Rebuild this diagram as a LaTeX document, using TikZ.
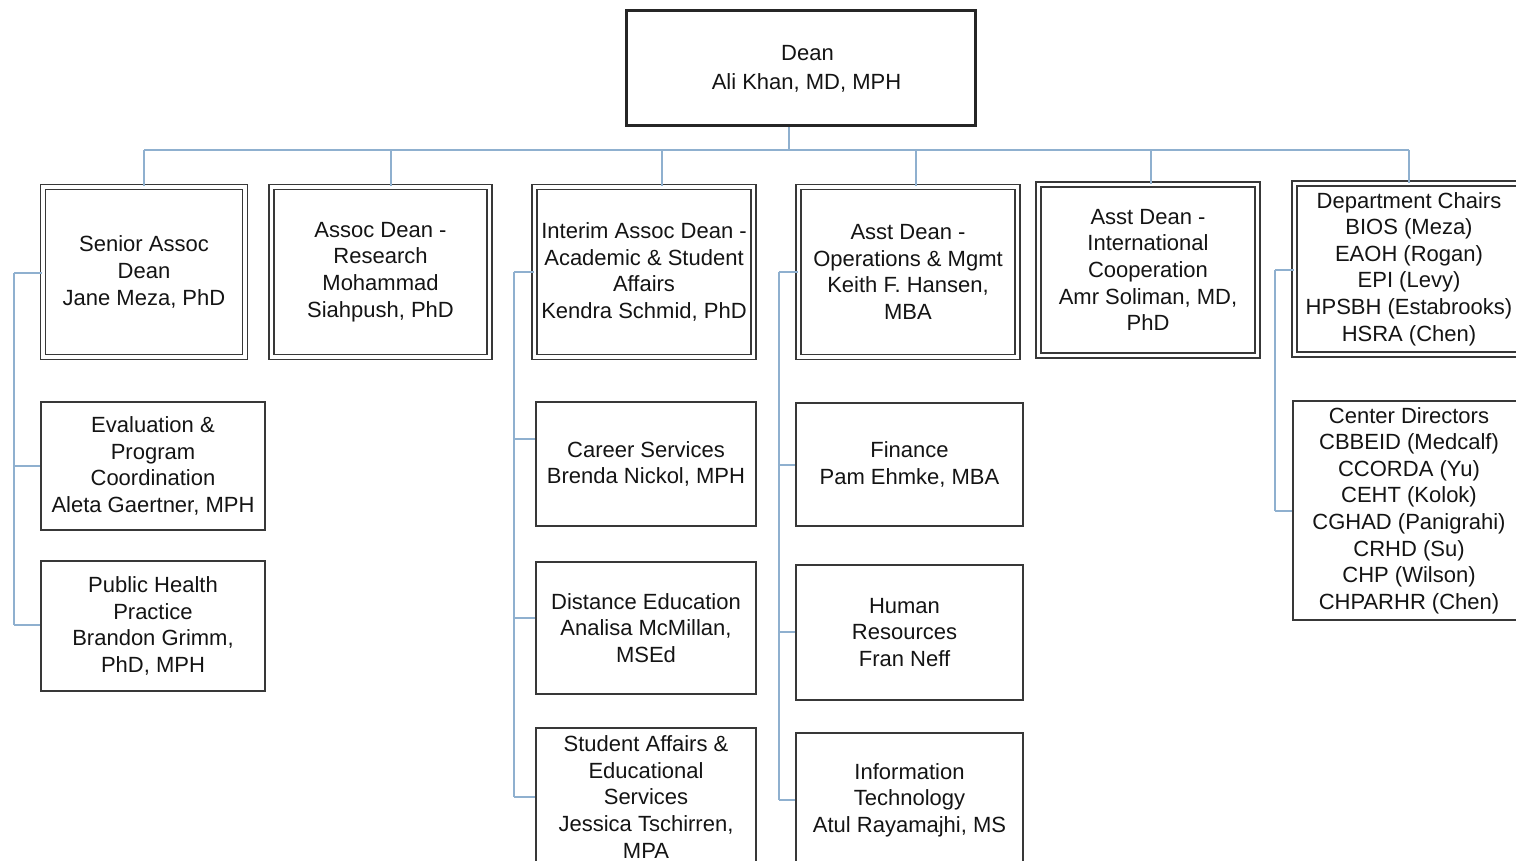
\documentclass[tikz,border=0pt]{standalone}
\usepackage{fontspec}
\setmainfont{Liberation Sans}
\definecolor{conn}{HTML}{8FB0CF}
\definecolor{boxline}{HTML}{383838}
\definecolor{txt}{HTML}{141414}
\begin{document}
\begin{tikzpicture}[x=1pt,y=-1pt,
  txtbase/.style={font=\fontsize{22}{26.6}\selectfont, text=txt, align=center, inner sep=0pt},
  dblbox/.style={txtbase, draw=boxline, line width=1.5pt, double=white, double distance=3.4pt},
  plainbox/.style={txtbase, draw=boxline, line width=1.5pt},
  deanbox/.style={txtbase, draw=black!85, line width=3pt},
  link/.style={draw=conn, line width=1.8pt}]
\useasboundingbox (0,0) rectangle (1516,861);
\clip (0,0) rectangle (1516,861);

% top
\node[deanbox, minimum width=349pt, minimum height=115pt] (dean) at (800.5,68.5) {\hspace*{14pt}Dean\\[2.4pt]\hspace*{12pt}Ali Khan, MD, MPH};

% row 1
\node[dblbox, minimum width=202pt, minimum height=170pt] (n1) at (144,272) {Senior Assoc\\Dean\\Jane Meza, PhD};
\node[dblbox, minimum width=218pt, minimum height=170pt] (n2) at (380.5,272) {Assoc Dean -\\Research\\Mohammad\\Siahpush, PhD};
\node[dblbox, minimum width=219pt, minimum height=170pt] (n3) at (644,272) {Interim Assoc Dean -\\Academic \& Student\\Affairs\\Kendra Schmid, PhD};
\node[dblbox, minimum width=219pt, minimum height=170pt] (n4) at (908,272) {Asst Dean -\\Operations \& Mgmt\\Keith F. Hansen,\\MBA};
\node[dblbox, minimum width=219pt, minimum height=171pt] (n5) at (1148,270) {Asst Dean -\\International\\Cooperation\\Amr Soliman, MD,\\PhD};
\node[dblbox, minimum width=229pt, minimum height=171pt] (n6) at (1409,269) {Department Chairs\\BIOS (Meza)\\EAOH (Rogan)\\EPI (Levy)\\HPSBH (Estabrooks)\\HSRA (Chen)};

% children
\node[plainbox, minimum width=224pt, minimum height=128pt] (e1) at (153,466) {Evaluation \&\\Program\\Coordination\\Aleta Gaertner, MPH};
\node[plainbox, minimum width=224pt, minimum height=130pt] (e2) at (153,626) {Public Health\\Practice\\Brandon Grimm,\\PhD, MPH};

\node[plainbox, minimum width=220pt, minimum height=124pt] (c1) at (646,464) {Career Services\\Brenda Nickol, MPH};
\node[plainbox, minimum width=220pt, minimum height=132pt] (c2) at (646,628) {Distance Education\\Analisa McMillan,\\MSEd};
\node[plainbox, minimum width=220pt, minimum height=138pt] (c3) at (646,797) {Student Affairs \&\\Educational\\Services\\Jessica Tschirren,\\MPA};

\node[plainbox, minimum width=227pt, minimum height=123pt] (f1) at (909.5,464.5) {Finance\\Pam Ehmke, MBA};
\node[plainbox, minimum width=227pt, minimum height=135pt] (f2) at (909.5,632.5) {\hspace*{-10pt}Human\\\hspace*{-10pt}Resources\\\hspace*{-10pt}Fran Neff};
\node[plainbox, minimum width=227pt, minimum height=134pt] (f3) at (909.5,800) {Information\\Technology\\Atul Rayamajhi, MS};

\node[plainbox, minimum width=232pt, minimum height=219pt] (r1) at (1409,510.5) {Center Directors\\CBBEID (Medcalf)\\CCORDA (Yu)\\CEHT (Kolok)\\CGHAD (Panigrahi)\\CRHD (Su)\\CHP (Wilson)\\CHPARHR (Chen)};

% bus
\coordinate (d0) at (789,150);
\coordinate (b1) at (144,150);
\coordinate (b2) at (391,150);
\coordinate (b3) at (662,150);
\coordinate (b4) at (916,150);
\coordinate (b5) at (1151,150);
\coordinate (b6) at (1409,150);
\draw[link] (d0 |- dean.south) -- (d0);
\draw[link] (b1) -- (b6);
\foreach \b/\n in {b1/n1,b2/n2,b3/n3,b4/n4,b5/n5,b6/n6}
  \draw[link] (\b) -- (\b |- \n.north);

% spine 1
\coordinate (s1a) at (14,273);
\coordinate (s1b) at (14,466);
\coordinate (s1c) at (14,625);
\draw[link] (s1a) -- (s1c);
\draw[link] (s1a) -- (s1a -| n1.west);
\draw[link] (s1b) -- (s1b -| e1.west);
\draw[link] (s1c) -- (s1c -| e2.west);

% spine 3
\coordinate (s3a) at (514,272);
\coordinate (s3b) at (514,439);
\coordinate (s3c) at (514,618);
\coordinate (s3d) at (514,797);
\draw[link] (s3a) -- (s3d);
\draw[link] (s3a) -- (s3a -| n3.west);
\draw[link] (s3b) -- (s3b -| c1.west);
\draw[link] (s3c) -- (s3c -| c2.west);
\draw[link] (s3d) -- (s3d -| c3.west);

% spine 4
\coordinate (s4a) at (779,272);
\coordinate (s4b) at (779,465);
\coordinate (s4c) at (779,632);
\coordinate (s4d) at (779,800);
\draw[link] (s4a) -- (s4d);
\draw[link] (s4a) -- (s4a -| n4.west);
\draw[link] (s4b) -- (s4b -| f1.west);
\draw[link] (s4c) -- (s4c -| f2.west);
\draw[link] (s4d) -- (s4d -| f3.west);

% spine 6
\coordinate (s6a) at (1275,270);
\coordinate (s6b) at (1275,511);
\draw[link] (s6a) -- (s6b);
\draw[link] (s6a) -- (s6a -| n6.west);
\draw[link] (s6b) -- (s6b -| r1.west);
\end{tikzpicture}
\end{document}
